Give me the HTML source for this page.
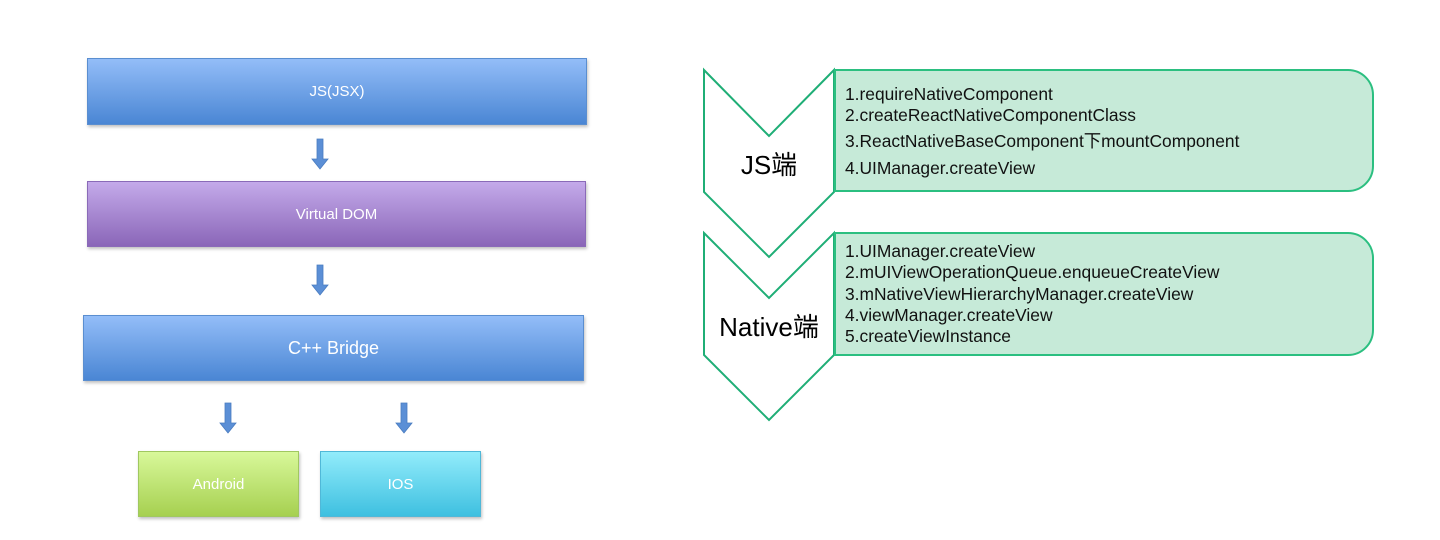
<!DOCTYPE html>
<html><head><meta charset="utf-8"><style>
body{margin:0;width:1440px;height:540px;background:#fff;position:relative;overflow:hidden;font-family:"Liberation Sans","Noto Sans CJK SC",sans-serif}
.b{position:absolute;color:#fff;display:flex;align-items:center;justify-content:center;font-size:15px;box-shadow:1px 2px 3px rgba(0,0,0,.25)}
.blue{background:linear-gradient(#93bdf8,#4a86d4);border:1px solid #5a8ed0}
.purp{background:linear-gradient(#c4aaea,#8a66b8);border:1px solid #8a6ab8}
.grn{background:linear-gradient(#d8f89a,#a6d050);border:1px solid #a0c860}
.cyan{background:linear-gradient(#92ecfb,#3ec0e0);border:1px solid #50b8d8}
.t{position:absolute;font-size:17.4px;color:#111;line-height:1;transform:scaleY(1.02)}
</style></head><body>
<div class="b blue" style="left:87px;top:58px;width:498px;height:65px">JS(JSX)</div>
<div class="b purp" style="left:87px;top:181px;width:497px;height:64px">Virtual DOM</div>
<div class="b blue" style="left:83px;top:315px;width:499px;height:64px;font-size:18px">C++ Bridge</div>
<div class="b grn" style="left:138px;top:451px;width:159px;height:64px">Android</div>
<div class="b cyan" style="left:320px;top:451px;width:159px;height:64px">IOS</div>
<svg width="1440" height="540" style="position:absolute;left:0;top:0">
<g fill="#5b8fd6" stroke="#4a7cc0" stroke-width="0.8">
<path d="M317 139h6v20h5l-8 10l-8-10h5z"/>
<path d="M317 265h6v20h5l-8 10l-8-10h5z"/>
<path d="M225 403h6v20h5l-8 10l-8-10h5z"/>
<path d="M401 403h6v20h5l-8 10l-8-10h5z"/>
</g>
<g fill="#fff" stroke="#1fae76" stroke-width="2">
<path d="M704 70L769 136L834 70V192L769 257L704 192Z"/>
<path d="M704 233L769 298L834 233V355L769 420L704 355Z"/>
</g>
<g fill="#c6ead8" stroke="#2bbf80" stroke-width="2">
<path d="M835 70H1348A25 25 0 0 1 1373 95V166A25 25 0 0 1 1348 191H835Z"/>
<path d="M835 233H1348A25 25 0 0 1 1373 258V330A25 25 0 0 1 1348 355H835Z"/>
</g>
<text x="769" y="174" font-size="26" text-anchor="middle" font-family="Liberation Sans,Noto Sans CJK SC,sans-serif">JS端</text>
<text x="769" y="336" font-size="26" text-anchor="middle" font-family="Liberation Sans,Noto Sans CJK SC,sans-serif">Native端</text>
</svg>
<div class="t" style="left:845px;top:86px">1.requireNativeComponent</div>
<div class="t" style="left:845px;top:107px">2.createReactNativeComponentClass</div>
<div class="t" style="left:845px;top:133px">3.ReactNativeBaseComponent下mountComponent</div>
<div class="t" style="left:845px;top:160px">4.UIManager.createView</div>
<div class="t" style="left:845px;top:243px">1.UIManager.createView</div>
<div class="t" style="left:845px;top:264px">2.mUIViewOperationQueue.enqueueCreateView</div>
<div class="t" style="left:845px;top:286px">3.mNativeViewHierarchyManager.createView</div>
<div class="t" style="left:845px;top:307px">4.viewManager.createView</div>
<div class="t" style="left:845px;top:328px">5.createViewInstance</div>
</body></html>
